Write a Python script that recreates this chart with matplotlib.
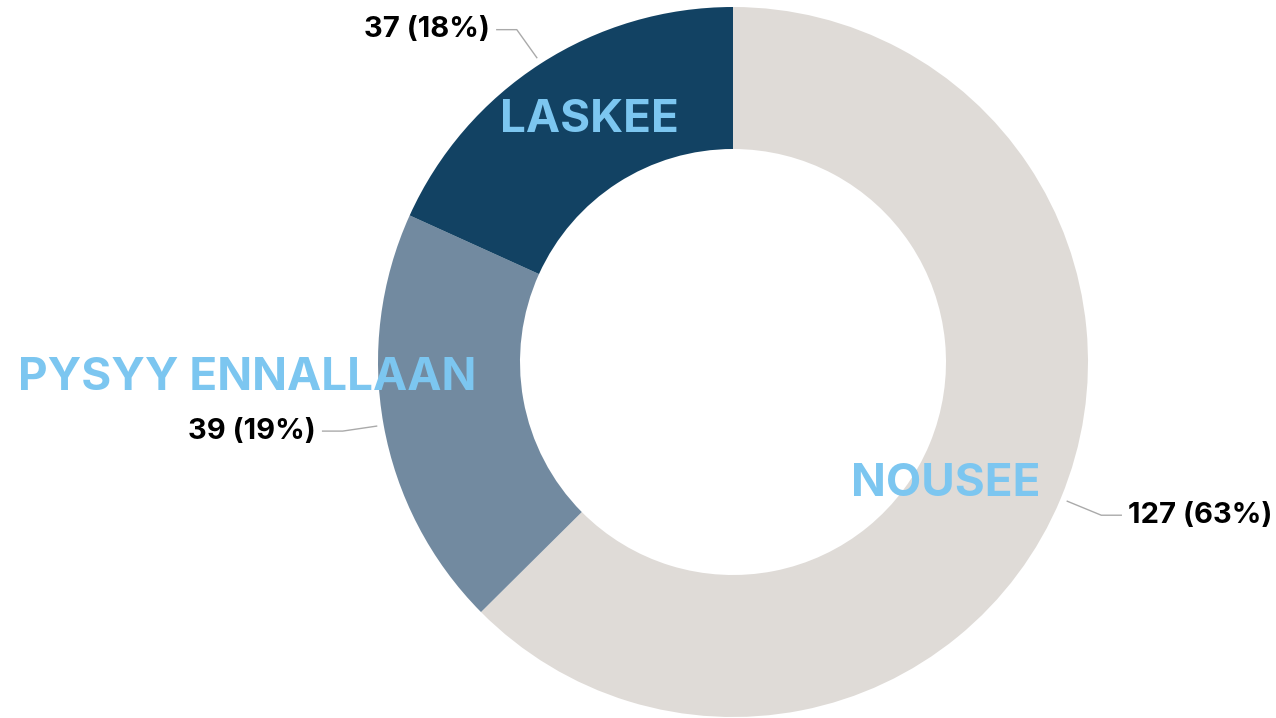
import numpy as np
import matplotlib.pyplot as plt

# data
categories = ['NOUSEE', 'PYSYY ENNALLAAN', 'LASKEE']
values = [127, 39, 37]
colors = ['#dfdbd7', '#728aa0', '#124263']

# layout (pixel coords, y up)
W, H = 1276, 718
cx, cy = 733, 718 - 362
R = 355
ring = 0.4

name_pos = [(946, 718 - 484), (247, 718 - 378), (589, 718 - 120)]
# leader line: offset of elbow from wedge edge, then horizontal run
elbow_off = [(34, -14), (-34, -5), (-20, 28)]

fig = plt.figure(figsize=(W / 100, H / 100), dpi=100)
ax = fig.add_axes([0, 0, 1, 1])

wedges, _ = ax.pie(values, colors=colors, startangle=90, counterclock=False,
                   radius=R, center=(cx, cy),
                   wedgeprops=dict(width=R * ring, linewidth=0))
ax.set_xlim(0, W)
ax.set_ylim(0, H)
ax.set_aspect('equal')
ax.axis('off')

total = sum(values)
for w, name, v, npos, off in zip(wedges, categories, values, name_pos, elbow_off):
    ang = np.deg2rad((w.theta1 + w.theta2) / 2)
    sx = cx + R * 1.02 * np.cos(ang)
    sy = cy + R * 1.02 * np.sin(ang)
    ex, ey = sx + off[0], sy + off[1]
    d = 1 if off[0] > 0 else -1
    hx = ex + d * 20
    ax.plot([sx, ex, hx], [sy, ey, ey], color='#aaaaaa', lw=1)
    pct = round(v / total * 100)
    ax.text(hx + d * 7, ey, f'{v} ({pct}%)', ha='left' if d > 0 else 'right',
            va='center', fontsize=21, fontweight='bold', family='Inter', color='black')
    ax.text(npos[0], npos[1], name, ha='center', va='center', fontsize=33,
            fontweight='bold', family='Inter', color='#7cc6f0')

fig.savefig('out.png', dpi=100)
